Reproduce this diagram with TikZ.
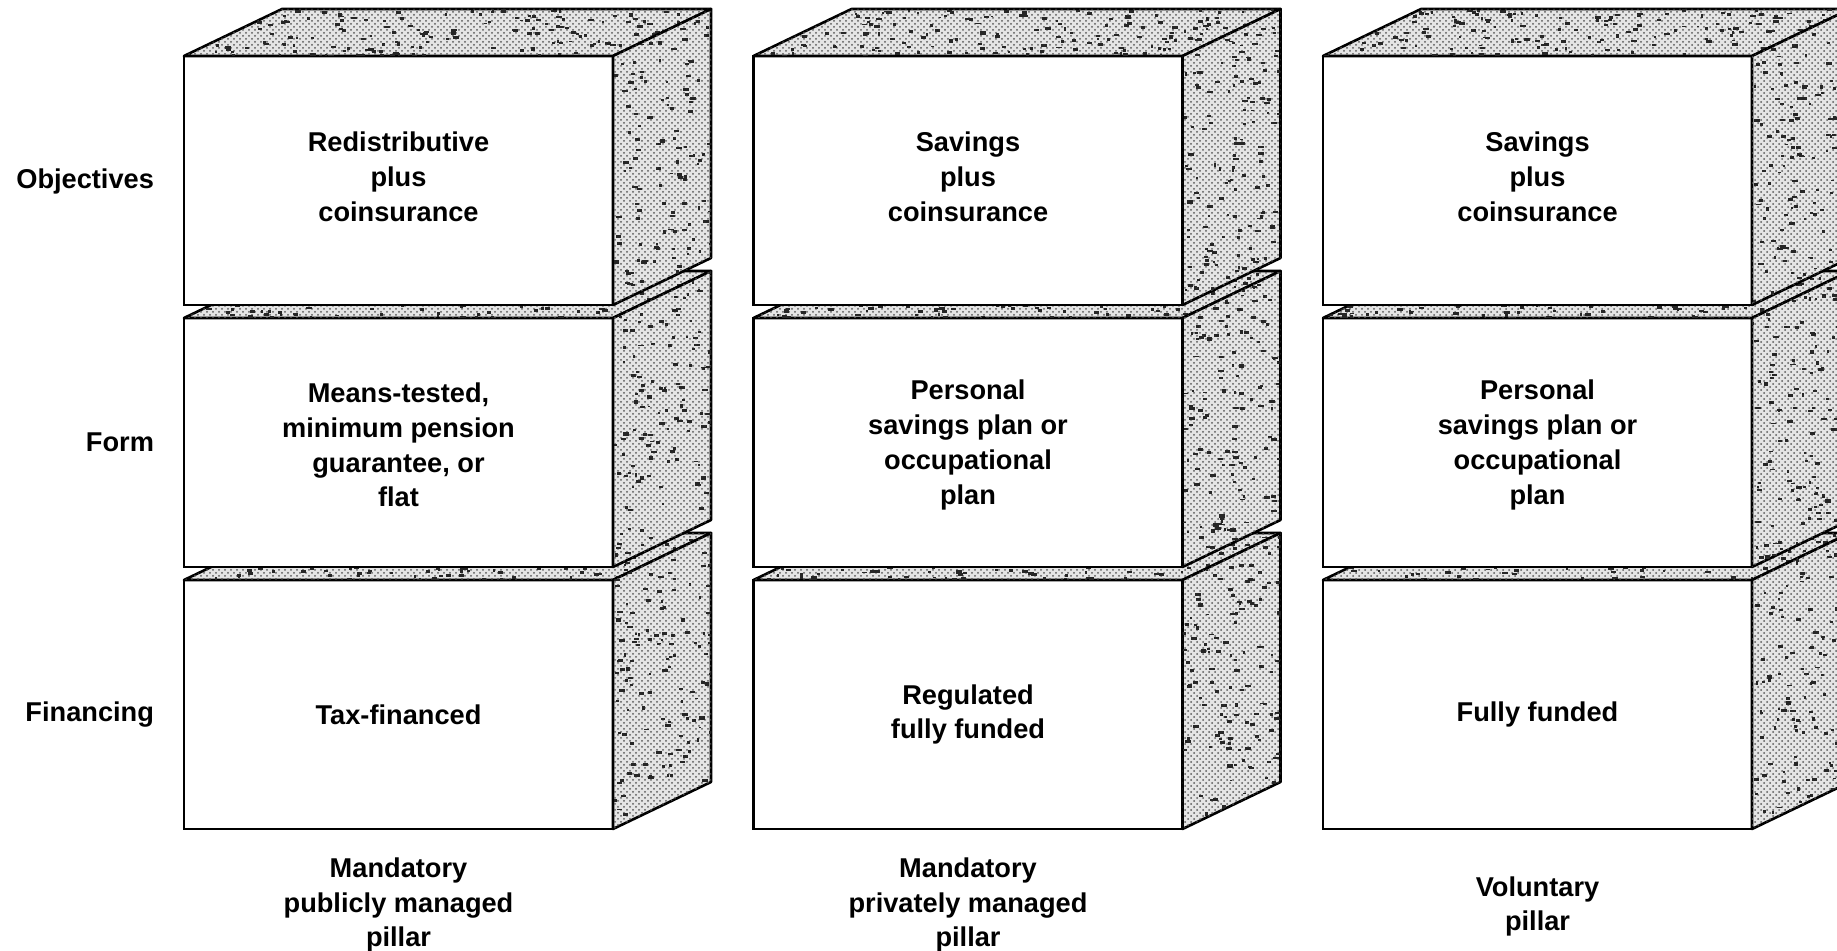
\documentclass[tikz,border=0pt]{standalone}
\usepackage{fontspec}
\setmainfont{Liberation Sans}
\usetikzlibrary{patterns, positioning}

\begin{document}
\begin{tikzpicture}[x=0.5pt,y=-0.5pt]
\tikzstyle{every node}=[font=\fontsize{13.6}{17.4}\selectfont\bfseries, align=center]
\tikzstyle{front}=[draw, line width=1.3pt, fill=white, outer sep=0pt, minimum width=214.5pt, minimum height=124.5pt]
\tikzstyle{face}=[draw, line width=1.3pt, line join=round, fill=gray!20, postaction={pattern=crosshatch dots, pattern color=black!65}]
\tikzstyle{fleck}=[fill=black!85]
\pgfmathsetseed{42}

\useasboundingbox (0,0) rectangle (1837,951);
\clip (0,0) rectangle (1837,951);

% one block: front node, top and side faces, flecks, then the text
% rows from the bottom up, so the upper blocks cover the lower ones
\foreach \row/\y/\dy/\list in {
    fin/704.5/-5pt/{1/398.5/{Tax-financed}, 2/968/{Regulated\\fully funded}, 3/1537.5/{Fully funded}},
    form/442.5/-1.25pt/{1/398.5/{Means-tested,\\minimum pension\\guarantee, or\\flat}, 2/968/{Personal\\savings plan or\\occupational\\plan}, 3/1537.5/{Personal\\savings plan or\\occupational\\plan}},
    obj/180.5/2pt/{1/398.5/{Redistributive\\plus\\coinsurance}, 2/968/{Savings\\plus\\coinsurance}, 3/1537.5/{Savings\\plus\\coinsurance}}} {
  \foreach \c/\x/\t in \list {
    \node[front] (\row\c) at (\x,\y) {};
    \draw[face] (\row\c.north west) -- ++(98,-47) -- ++(429,0) -- (\row\c.north east) -- cycle;
    \begin{scope}
      \clip (\row\c.north west) -- ++(98,-47) -- ++(429,0) -- (\row\c.north east) -- cycle;
      \foreach \k in {1,...,180}
        \fill[fleck] ([shift={({263.5+263.5*rand},{-23.5+23.5*rand})}]\row\c.north west) rectangle ++({2+4*rnd},{1.5+2*rnd});
    \end{scope}
    \draw[face] (\row\c.north east) -- ++(98,-47) -- ++(0,249) -- (\row\c.south east) -- cycle;
    \begin{scope}
      \clip (\row\c.north east) -- ++(98,-47) -- ++(0,249) -- (\row\c.south east) -- cycle;
      \foreach \k in {1,...,150}
        \fill[fleck] ([shift={({49+49*rand},{101+148*rand})}]\row\c.north east) rectangle ++({2+4*rnd},{1.5+2*rnd});
    \end{scope}
    \node (\row\c t) at ([yshift=\dy]\row\c.center) {\t};
  }
}

% row labels
\node[left=11.5pt of obj1, yshift=-0.5pt] (objl) {Objectives};
\node[left=11.5pt of form1] (forml) {Form};
\node[left=11.5pt of fin1, yshift=-5.25pt] (finl) {Financing};

% pillar labels
\node (pil1) at ([yshift=-38pt]fin1.south) {Mandatory\\publicly managed\\pillar};
\node (pil2) at ([yshift=-38pt]fin2.south) {Mandatory\\privately managed\\pillar};
\node (pil3) at ([yshift=-38.7pt]fin3.south) {Voluntary\\pillar};
\end{tikzpicture}
\end{document}
